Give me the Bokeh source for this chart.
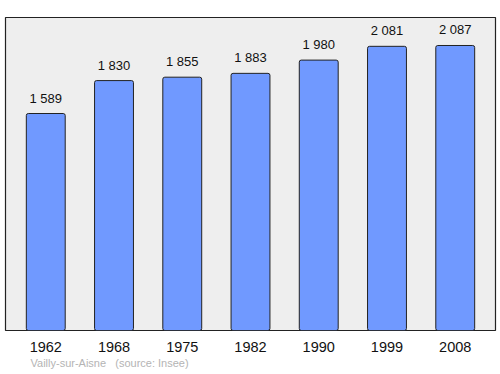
from bokeh.plotting import figure
from bokeh.models import ColumnDataSource, Range1d, Title, FixedTicker
from bokeh.core.properties import value
from bokeh.embed import file_html
from bokeh.resources import INLINE

years = ["1962", "1968", "1975", "1982", "1990", "1999", "2008"]
population = [1589, 1830, 1855, 1883, 1980, 2081, 2087]
labels = ["1 589", "1 830", "1 855", "1 883", "1 980", "2 081", "2 087"]

idx = list(range(len(years)))
src = ColumnDataSource(dict(x=idx, y=population, lab=labels))

p = figure(width=500, height=374, output_backend="svg", toolbar_location=None,
           x_range=Range1d(-0.59, 6.59), y_range=Range1d(0, 2292),
           min_border_left=5, min_border_right=5, min_border_top=17, min_border_bottom=44)
p.background_fill_color = "#eeeeee"
p.border_fill_color = "white"
p.outline_line_color = "#222222"
p.outline_line_width = 1.2
p.grid.visible = False
p.yaxis.visible = False

p.vbar(x="x", top="y", width=0.57, bottom=0, source=src,
       fill_color="#7099ff", line_color="#222222", line_width=1, border_radius=2)
p.text(x="x", y="y", text="lab", source=src, y_offset=-8,
       text_align="center", text_baseline="bottom",
       text_font=value("Liberation Sans"), text_font_size="13px", text_color="#111111")

ax = p.xaxis[0]
ax.ticker = FixedTicker(ticks=idx)
ax.major_label_overrides = {i: y for i, y in enumerate(years)}
ax.axis_line_color = None
ax.major_tick_line_color = None
ax.minor_tick_line_color = None
ax.major_label_text_font = "Liberation Sans"
ax.major_label_text_font_size = "14.5px"
ax.major_label_text_color = "#111111"
ax.major_label_standoff = 5

t = Title(text="Vailly-sur-Aisne\u00a0\u00a0\u00a0(source: Insee)", align="left", offset=25,
          text_font="Liberation Sans", text_font_size="11px", text_color="#b4b4b4",
          text_font_style="normal", standoff=0)
p.add_layout(t, "below")

open("out.html", "w").write(file_html(p, INLINE))
